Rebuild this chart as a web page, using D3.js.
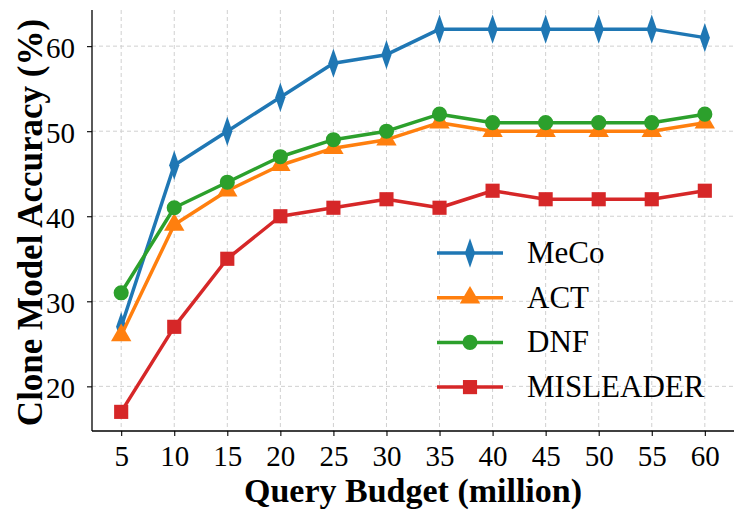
<!DOCTYPE html>
<html><head><meta charset="utf-8">
<script src="https://cdn.jsdelivr.net/npm/d3@7"></script>
<style>body{margin:0;background:#fff}svg{display:block}text{font-family:"Liberation Serif","Times New Roman",serif}</style>
</head><body><svg id="c" width="747" height="521"></svg>
<script>
const budgets = [5,10,15,20,25,30,35,40,45,50,55,60];
const seriesNames = ["MeCo","ACT","DNF","MISLEADER"];
const meco = [27,46,50,54,58,59,62,62,62,62,62,61];
const act = [26,39,43,46,48,49,51,50,50,50,50,51];
const dnf = [31,41,44,47,49,50,52,51,51,51,51,52];
const misleader = [17,27,35,40,41,42,41,43,42,42,42,43];
const yTicks = [20,30,40,50,60];
const colors = ["#1f77b4","#ff7f0e","#2ca02c","#d62728"];
const symbols = [d3.symbolDiamond, d3.symbolTriangle, d3.symbolCircle, d3.symbolSquare];
const symSizes = [160, 180, 180, 200];
const data = [meco, act, dnf, misleader];

const svg = d3.select("#c");
const L=92, R=734, T=10, B=431;
const x = d3.scaleLinear().domain([2.25,62.75]).range([L,R]);
const y = d3.scaleLinear().domain([14.75,64.25]).range([B,T]);

// grid
const g = svg.append("g");
g.selectAll(".vg").data(budgets).enter().append("line")
 .attr("x1",d=>x(d)).attr("x2",d=>x(d)).attr("y1",T).attr("y2",B)
 .attr("stroke","#d0d0d0").attr("stroke-width",1).attr("stroke-dasharray","4,3");
g.selectAll(".hg").data(yTicks).enter().append("line")
 .attr("x1",L).attr("x2",R).attr("y1",d=>y(d)).attr("y2",d=>y(d))
 .attr("stroke","#d0d0d0").attr("stroke-width",1).attr("stroke-dasharray","4,3");

// axes
const xa = svg.append("g").attr("transform",`translate(0,${B})`)
 .call(d3.axisBottom(x).tickValues(budgets).tickSize(5).tickSizeOuter(0));
const ya = svg.append("g").attr("transform",`translate(${L},0)`)
 .call(d3.axisLeft(y).tickValues(yTicks).tickSize(5).tickSizeOuter(0));
[xa,ya].forEach(a=>{
  a.attr("font-size",null).attr("font-family",null);
  a.select(".domain").attr("stroke","#000").attr("stroke-width",1.3);
  a.selectAll(".tick line").attr("stroke","#000").attr("stroke-width",1.1);
  a.selectAll("text").style("font-size","29px").attr("fill","#000")
   .style("font-family","'Liberation Serif',serif");
});
xa.selectAll("text").attr("y",35).attr("dy",0);
ya.selectAll("text").attr("x",-17).attr("dy","0.38em");
ya.select(".domain").attr("d",`M0,${T}V${B}`);
xa.select(".domain").attr("d",`M${L},0H${R}`);

// lines
const line = d3.line().x((d,i)=>x(budgets[i])).y(d=>y(d));
data.forEach((s,k)=>{
  svg.append("path").datum(s).attr("d",line).attr("fill","none")
   .attr("stroke",colors[k]).attr("stroke-width",3.5).attr("stroke-linejoin","round");
  svg.selectAll(".m"+k).data(s).enter().append("path")
   .attr("d",d3.symbol().type(symbols[k]).size(symSizes[k]))
   .attr("transform",(d,i)=>`translate(${x(budgets[i])},${y(d)})${k===0?" scale(0.75,1.25)":""}`)
   .attr("fill",colors[k]);
});

// legend
const ly0 = 253, lstep = 44.7;
seriesNames.forEach((n,k)=>{
  const yy = ly0 + k*lstep;
  svg.append("line").attr("x1",437).attr("x2",503).attr("y1",yy).attr("y2",yy)
   .attr("stroke",colors[k]).attr("stroke-width",3.5);
  svg.append("path").attr("d",d3.symbol().type(symbols[k]).size(symSizes[k]))
   .attr("transform",`translate(470,${yy})${k===0?" scale(0.75,1.25)":""}`).attr("fill",colors[k]);
  svg.append("text").attr("x",527).attr("y",yy).attr("dy","0.32em")
   .style("font-size","31px").attr("fill","#000").text(n);
});

// axis titles
svg.append("text").attr("x",(L+R)/2).attr("y",502).attr("text-anchor","middle")
 .style("font-size","34px").attr("font-weight","bold").text("Query Budget (million)");
svg.append("text").attr("transform",`translate(42,${(T+B)/2 + 2}) rotate(-90)`)
 .attr("text-anchor","middle").style("font-size","35px").attr("font-weight","bold")
 .text("Clone Model Accuracy (%)");
</script></body></html>
